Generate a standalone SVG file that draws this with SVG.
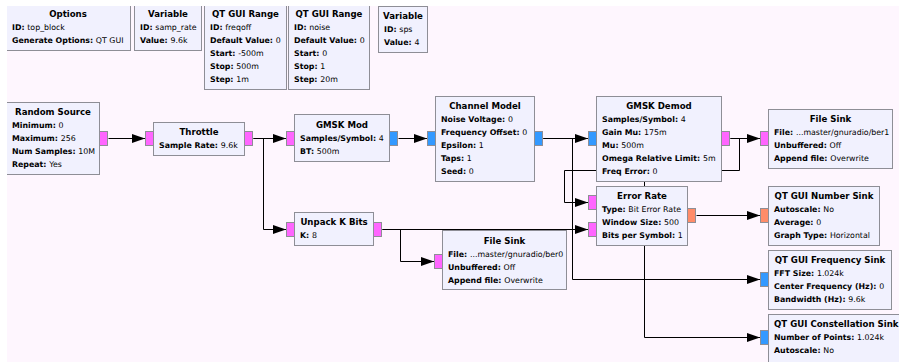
<svg xmlns="http://www.w3.org/2000/svg" width="899" height="362" viewBox="0 0 899 362">
<defs>
<style>
text{font-family:"DejaVu Sans","Liberation Sans",sans-serif;font-size:7.85px;fill:#000}
.t{font-weight:bold;font-size:8.6px;text-anchor:middle}
.b{font-weight:bold}
.blk{fill:#F1F1FE;stroke:#8E8E96;stroke-width:1}
.pb{fill:#FF66FF;stroke:#8E8E96;stroke-width:1}
.pc{fill:#3399FF;stroke:#8E8E96;stroke-width:1}
.pf{fill:#FF8C69;stroke:#8E8E96;stroke-width:1}
.w{fill:none;stroke:#000;stroke-width:1}
</style>
<marker id="ah" markerUnits="userSpaceOnUse" markerWidth="13" markerHeight="9" refX="13" refY="4.5" orient="auto">
<path d="M0,0 L13,4.5 L0,9 z" fill="#000"/>
</marker>
</defs>
<rect x="0" y="0" width="899" height="362" fill="#FEF6FE"/>
<g id="connectors" class="w" marker-end="url(#ah)">
<path class="w" marker-end="url(#ah)" d="M108.5,138.5 H145"/>
<path class="w" marker-end="url(#ah)" d="M253.5,138.5 H286"/>
<path class="w" marker-end="url(#ah)" d="M253.5,138.5 H263.5 V229.5 H286"/>
<path class="w" marker-end="url(#ah)" d="M398.5,138.5 H427"/>
<path class="w" marker-end="url(#ah)" d="M543.5,138.5 H588"/>
<path class="w" marker-end="url(#ah)" d="M543.5,138.5 H572.5 V279.5 H760"/>
<path class="w" marker-end="url(#ah)" d="M543.5,138.5 H644.5 V337.5 H760"/>
<path class="w" marker-end="url(#ah)" d="M730.5,138.5 H760"/>
<path class="w" marker-end="url(#ah)" d="M730.5,138.5 H739.5 V170.5 H564.5 V202.5 H588"/>
<path class="w" marker-end="url(#ah)" d="M382.5,229.5 H588"/>
<path class="w" marker-end="url(#ah)" d="M382.5,229.5 H400.5 V261.5 H434"/>
<path class="w" marker-end="url(#ah)" d="M696.5,215.5 H760"/>
</g>
<g id="options">
<rect class="blk" x="4.5" y="3.5" width="126" height="47"/>
<text class="t" x="68" y="17">Options</text>
<text x="12" y="30"><tspan class="b">ID: </tspan>top_block</text>
<text x="12" y="43"><tspan class="b">Generate Options: </tspan>QT GUI</text>
</g>
<g id="var_samp_rate">
<rect class="blk" x="134.5" y="3.5" width="67" height="47"/>
<text class="t" x="168" y="17">Variable</text>
<text x="140" y="30"><tspan class="b">ID: </tspan>samp_rate</text>
<text x="140" y="43"><tspan class="b">Value: </tspan>9.6k</text>
</g>
<g id="range_freqoff">
<rect class="blk" x="204.5" y="3.5" width="82" height="86"/>
<text class="t" x="245.5" y="17">QT GUI Range</text>
<text x="210" y="30"><tspan class="b">ID: </tspan>freqoff</text>
<text x="210" y="43"><tspan class="b">Default Value: </tspan>0</text>
<text x="210" y="56"><tspan class="b">Start: </tspan>-500m</text>
<text x="210" y="69"><tspan class="b">Stop: </tspan>500m</text>
<text x="210" y="82"><tspan class="b">Step: </tspan>1m</text>
</g>
<g id="range_noise">
<rect class="blk" x="288.5" y="3.5" width="81" height="86"/>
<text class="t" x="329" y="17">QT GUI Range</text>
<text x="294" y="30"><tspan class="b">ID: </tspan>noise</text>
<text x="294" y="43"><tspan class="b">Default Value: </tspan>0</text>
<text x="294" y="56"><tspan class="b">Start: </tspan>0</text>
<text x="294" y="69"><tspan class="b">Stop: </tspan>1</text>
<text x="294" y="82"><tspan class="b">Step: </tspan>20m</text>
</g>
<g id="var_sps">
<rect class="blk" x="378.5" y="6.5" width="49" height="46"/>
<text class="t" x="403" y="19">Variable</text>
<text x="384" y="32"><tspan class="b">ID: </tspan>sps</text>
<text x="384" y="45"><tspan class="b">Value: </tspan>4</text>
</g>
<g id="random_source">
<rect class="blk" x="4.5" y="102.5" width="95" height="72"/>
<rect class="pb" x="99.5" y="131.5" width="8" height="14"/>
<text class="t" x="53" y="115">Random Source</text>
<text x="12" y="128"><tspan class="b">Minimum: </tspan>0</text>
<text x="12" y="141"><tspan class="b">Maximum: </tspan>256</text>
<text x="12" y="154"><tspan class="b">Num Samples: </tspan>10M</text>
<text x="12" y="167"><tspan class="b">Repeat: </tspan>Yes</text>
</g>
<g id="throttle">
<rect class="blk" x="153.5" y="122.5" width="91" height="33"/>
<rect class="pb" x="145.5" y="131.5" width="8" height="14"/>
<rect class="pb" x="244.5" y="131.5" width="8" height="14"/>
<text class="t" x="199" y="135">Throttle</text>
<text x="159" y="148"><tspan class="b">Sample Rate: </tspan>9.6k</text>
</g>
<g id="gmsk_mod">
<rect class="blk" x="294.5" y="114.5" width="95" height="47"/>
<rect class="pb" x="286.5" y="131.5" width="8" height="14"/>
<rect class="pc" x="389.5" y="131.5" width="8" height="14"/>
<text class="t" x="342" y="128">GMSK Mod</text>
<text x="300" y="141"><tspan class="b">Samples/Symbol: </tspan>4</text>
<text x="300" y="154"><tspan class="b">BT: </tspan>500m</text>
</g>
<g id="unpack_k_bits">
<rect class="blk" x="294.5" y="212.5" width="79" height="33"/>
<rect class="pb" x="286.5" y="222.5" width="8" height="14"/>
<rect class="pb" x="373.5" y="222.5" width="8" height="14"/>
<text class="t" x="334" y="225">Unpack K Bits</text>
<text x="300" y="238"><tspan class="b">K: </tspan>8</text>
</g>
<g id="channel_model">
<rect class="blk" x="435.5" y="96.5" width="99" height="85"/>
<rect class="pc" x="427.5" y="131.5" width="8" height="14"/>
<rect class="pc" x="534.5" y="131.5" width="8" height="14"/>
<text class="t" x="485" y="109">Channel Model</text>
<text x="441" y="122"><tspan class="b">Noise Voltage: </tspan>0</text>
<text x="441" y="135"><tspan class="b">Frequency Offset: </tspan>0</text>
<text x="441" y="148"><tspan class="b">Epsilon: </tspan>1</text>
<text x="441" y="161"><tspan class="b">Taps: </tspan>1</text>
<text x="441" y="174"><tspan class="b">Seed: </tspan>0</text>
</g>
<g id="file_sink_ber0">
<rect class="blk" x="442.5" y="230.5" width="124" height="59"/>
<rect class="pb" x="434.5" y="254.5" width="8" height="14"/>
<text class="t" x="504.5" y="244">File Sink</text>
<text x="448" y="257"><tspan class="b">File: </tspan>...master/gnuradio/ber0</text>
<text x="448" y="270"><tspan class="b">Unbuffered: </tspan>Off</text>
<text x="448" y="283"><tspan class="b">Append file: </tspan>Overwrite</text>
</g>
<g id="gmsk_demod">
<rect class="blk" x="596.5" y="96.5" width="125" height="85"/>
<rect class="pc" x="588.5" y="131.5" width="8" height="14"/>
<rect class="pb" x="721.5" y="131.5" width="8" height="14"/>
<text class="t" x="659" y="109">GMSK Demod</text>
<text x="602" y="122"><tspan class="b">Samples/Symbol: </tspan>4</text>
<text x="602" y="135"><tspan class="b">Gain Mu: </tspan>175m</text>
<text x="602" y="148"><tspan class="b">Mu: </tspan>500m</text>
<text x="602" y="161"><tspan class="b">Omega Relative Limit: </tspan>5m</text>
<text x="602" y="174"><tspan class="b">Freq Error: </tspan>0</text>
</g>
<g id="error_rate">
<rect class="blk" x="596.5" y="186.5" width="91" height="59"/>
<rect class="pb" x="588.5" y="195.5" width="8" height="14"/>
<rect class="pb" x="588.5" y="222.5" width="8" height="14"/>
<rect class="pf" x="687.5" y="208.5" width="8" height="14"/>
<text class="t" x="642" y="199">Error Rate</text>
<text x="602" y="212"><tspan class="b">Type: </tspan>Bit Error Rate</text>
<text x="602" y="225"><tspan class="b">Window Size: </tspan>500</text>
<text x="602" y="238"><tspan class="b">Bits per Symbol: </tspan>1</text>
</g>
<g id="file_sink_ber1">
<rect class="blk" x="768.5" y="109.5" width="124" height="59"/>
<rect class="pb" x="760.5" y="131.5" width="8" height="14"/>
<text class="t" x="830.5" y="122">File Sink</text>
<text x="774" y="135"><tspan class="b">File: </tspan>...master/gnuradio/ber1</text>
<text x="774" y="148"><tspan class="b">Unbuffered: </tspan>Off</text>
<text x="774" y="161"><tspan class="b">Append file: </tspan>Overwrite</text>
</g>
<g id="number_sink">
<rect class="blk" x="768.5" y="186.5" width="111" height="59"/>
<rect class="pf" x="760.5" y="208.5" width="8" height="14"/>
<text class="t" x="824" y="199">QT GUI Number Sink</text>
<text x="774" y="212"><tspan class="b">Autoscale: </tspan>No</text>
<text x="774" y="225"><tspan class="b">Average: </tspan>0</text>
<text x="774" y="238"><tspan class="b">Graph Type: </tspan>Horizontal</text>
</g>
<g id="freq_sink">
<rect class="blk" x="768.5" y="250.5" width="123" height="59"/>
<rect class="pc" x="760.5" y="272.5" width="8" height="14"/>
<text class="t" x="830" y="263">QT GUI Frequency Sink</text>
<text x="774" y="276"><tspan class="b">FFT Size: </tspan>1.024k</text>
<text x="774" y="289"><tspan class="b">Center Frequency (Hz): </tspan>0</text>
<text x="774" y="302"><tspan class="b">Bandwidth (Hz): </tspan>9.6k</text>
</g>
<g id="constellation_sink">
<rect class="blk" x="768.5" y="314.5" width="145" height="59"/>
<rect class="pc" x="760.5" y="330.5" width="8" height="14"/>
<text class="t" x="774" y="327" style="text-anchor:start">QT GUI Constellation Sink</text>
<text x="774" y="340"><tspan class="b">Number of Points: </tspan>1.024k</text>
<text x="774" y="353"><tspan class="b">Autoscale: </tspan>No</text>
</g>
<rect x="0" y="0" width="899" height="6" fill="#FFFFFF"/>
<rect x="0" y="0" width="7" height="362" fill="#FFFFFF"/>
</svg>
